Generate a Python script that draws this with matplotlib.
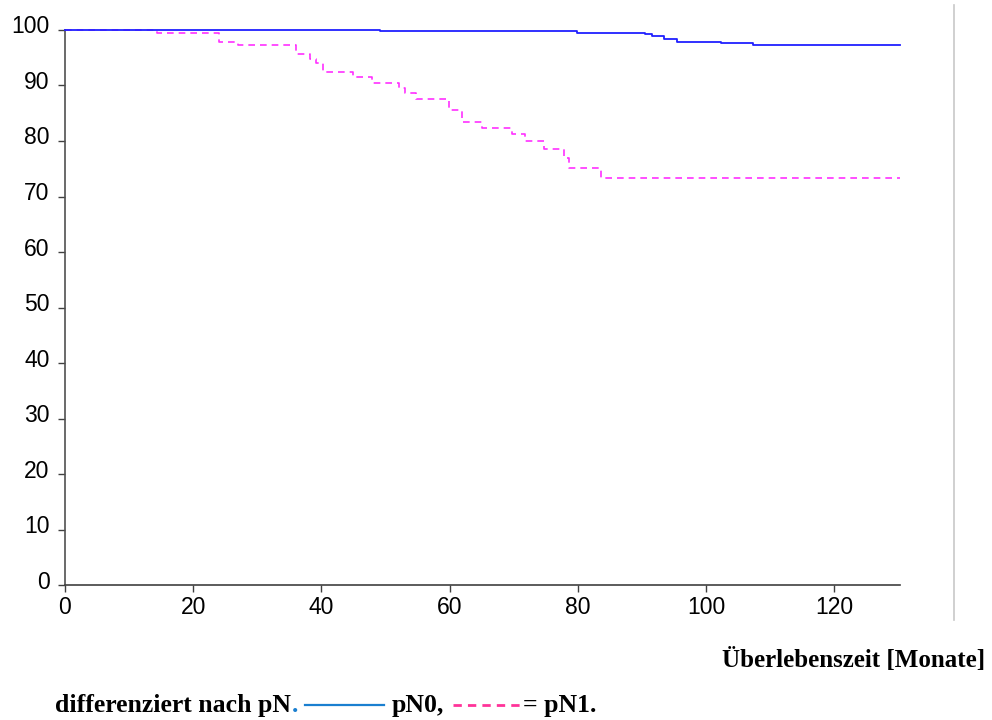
import matplotlib
matplotlib.use('Agg')
import matplotlib.pyplot as plt
import matplotlib.transforms as mtransforms
from matplotlib.lines import Line2D

# Kaplan-Meier step data (months, survival %)
pn0_t = [0, 49.1, 79.8, 90.5, 91.6, 93.5, 94.5, 95.5, 102.4, 107.4, 130.3]
pn0_s = [100, 99.8, 99.5, 99.3, 98.9, 98.4, 98.3, 97.8, 97.6, 97.2, 97.2]

pn1_t = [0, 14.3, 24.0, 27.0, 36.1, 38.2, 39.1, 40.2, 45.0, 47.9, 52.1, 53.0, 54.8,
         59.9, 61.9, 65.0, 69.7, 71.7, 74.8, 77.8, 78.6, 83.6, 130.3]
pn1_s = [100, 99.5, 97.9, 97.2, 95.6, 94.8, 94.0, 92.4, 91.5, 90.5, 89.6, 88.7, 87.5,
         85.6, 83.5, 82.4, 81.2, 80.0, 78.5, 77.0, 75.1, 73.4, 73.4]

yticks = [0, 10, 20, 30, 40, 50, 60, 70, 80, 90, 100]
xticks = [0, 20, 40, 60, 80, 100, 120]

fig = plt.figure(figsize=(9.92, 7.2), dpi=100)
ax = fig.add_axes([0.0655, 0.187, 0.842, 0.7715])

ax.step(pn0_t, pn0_s, where='post', color='#2020ff', lw=1.3, clip_on=False, zorder=3)
ax.step(pn1_t, pn1_s, where='post', color='#ff30ff', lw=1.2, ls=(0, (4, 3)),
        clip_on=False, zorder=2)

ax.set_xlim(0, 130.3)
ax.set_ylim(0, 100)
ax.set_xticks(xticks)
ax.set_yticks(yticks)
for s in ['top', 'right']:
    ax.spines[s].set_visible(False)
ax.spines['left'].set_color('#505050')
ax.spines['bottom'].set_color('#404040')
ax.spines['left'].set_linewidth(1.2)
ax.spines['bottom'].set_linewidth(1.2)
ax.tick_params(axis='both', direction='out', length=5, width=1, color='#404040',
               labelsize=16.5, pad=3)
ax.tick_params(axis='y', pad=6)
for lab in ax.get_xticklabels() + ax.get_yticklabels():
    lab.set_fontfamily('Liberation Sans')
    lab.set_color('#000000')
# y labels sit a little above their ticks in the original
off = mtransforms.ScaledTranslation(0, 4 / 72, fig.dpi_scale_trans)
for lab in ax.get_yticklabels():
    lab.set_transform(lab.get_transform() + off)

# light vertical line at the right side
fig.add_artist(Line2D([954 / 992, 954 / 992], [1 - 5 / 720, 1 - 620 / 720],
                      color='#c8c8c8', lw=1.2))

serif = dict(family='Liberation Serif', weight='bold', fontsize=18.5)
fig.text(985 / 992, 1 - 667 / 720, 'Überlebenszeit [Monate]', ha='right',
         va='baseline', family='Liberation Serif', weight='bold', fontsize=18)

yb = 1 - 712 / 720
fig.text(55 / 992, yb, 'differenziert nach pN', ha='left', va='baseline', **serif)
fig.text(292 / 992, yb, '.', ha='left', va='baseline', color='#1a7fd0', **serif)
fig.add_artist(Line2D([305 / 992, 384 / 992], [1 - 705 / 720] * 2, color='#1a7fd0', lw=1.6))
fig.text(392 / 992, yb, 'pN0,', ha='left', va='baseline', **serif)
fig.add_artist(Line2D([453 / 992, 523 / 992], [1 - 705 / 720] * 2, color='#ff3399',
                      lw=2.0, ls=(0, (3, 2.2))))
fig.text(523 / 992, yb, '= pN1.', ha='left', va='baseline', **serif)

fig.savefig('out.png', dpi=100)
